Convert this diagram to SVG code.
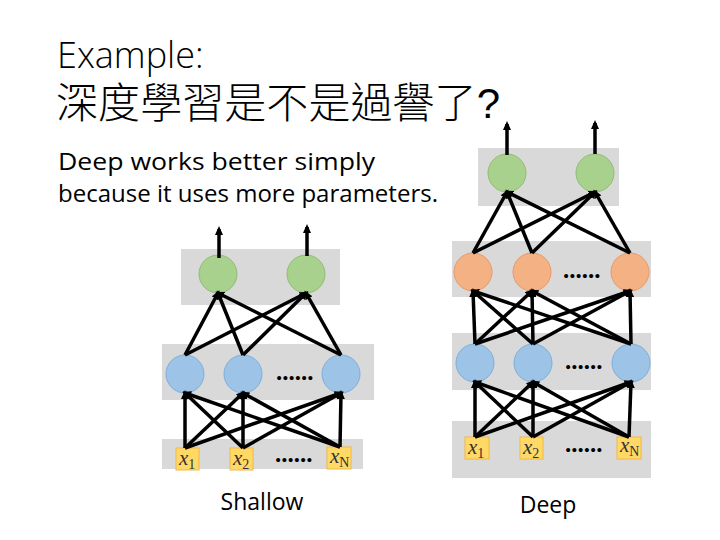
<svg xmlns="http://www.w3.org/2000/svg" width="720" height="540" viewBox="0 0 720 540">
<style>
.band{fill:#d9d9d9}
.g{fill:#a9d18e;stroke:#8fbc74;stroke-width:1}
.b{fill:#9dc3e6;stroke:#7eaedb;stroke-width:1}
.o{fill:#f4b183;stroke:#e8996a;stroke-width:1}
.in{fill:#ffd966;stroke:#f2b84b;stroke-width:1}
.ln{stroke:#000;stroke-width:3.5;fill:none;marker-end:url(#ah)}
.x{font-family:"Liberation Serif",serif;font-style:italic;font-size:21px;fill:#333}
.sub{font-family:"Liberation Serif",serif;font-style:normal;font-size:14px}
.dots{font-family:"Liberation Serif",serif;font-size:25px;font-weight:bold;fill:#000}
.t{font-family:"Open Sans","Noto Sans",sans-serif;fill:#000}
</style>
<defs>
<marker id="ah" markerUnits="userSpaceOnUse" markerWidth="9" markerHeight="8" refX="6" refY="4" orient="auto">
<path d="M0,0 L9,4 L0,8 z" fill="#000"/>
</marker>
</defs>
<rect width="720" height="540" fill="#fff"/>

<g id="title">
<text class="t" x="57" y="68" font-size="36" font-weight="300">Example:</text>
<text x="56" y="118" font-size="42" font-weight="300" font-family="'Noto Sans CJK TC','Noto Sans CJK SC',sans-serif" fill="#000" textLength="444">深度學習是不是過譽了<tspan font-family="'Liberation Sans',sans-serif">?</tspan></text>
</g>
<g id="note">
<text class="t" x="58" y="170" font-size="24" textLength="317" lengthAdjust="spacingAndGlyphs">Deep works better simply</text>
<text class="t" x="58" y="202" font-size="24" textLength="380" lengthAdjust="spacingAndGlyphs">because it uses more parameters.</text>
</g>

<!-- Shallow network bands -->
<g id="shallow-bands">
<rect class="band" x="181" y="249" width="159" height="56"/>
<rect class="band" x="162" y="344" width="212" height="56"/>
<rect class="band" x="162" y="439" width="201" height="30"/>
</g>
<!-- Deep network bands -->
<g id="deep-bands">
<rect class="band" x="478" y="148" width="141" height="58"/>
<rect class="band" x="452" y="241" width="199" height="56"/>
<rect class="band" x="452" y="333" width="199" height="57"/>
<rect class="band" x="452" y="421" width="199" height="57"/>
</g>

<!-- Shallow nodes -->
<g id="s-g1"><circle class="g" cx="218" cy="274" r="19"/></g>
<g id="s-g2"><circle class="g" cx="306" cy="274" r="19"/></g>
<g id="s-b1"><circle class="b" cx="185" cy="374" r="19"/></g>
<g id="s-b2"><circle class="b" cx="243" cy="374" r="19"/></g>
<g id="s-b3"><circle class="b" cx="341" cy="374" r="19"/></g>
<g id="s-x1"><rect class="in" x="176" y="448" width="23" height="22"/><text class="x" x="179" y="465">x<tspan class="sub" dy="4">1</tspan></text></g>
<g id="s-x2"><rect class="in" x="230" y="448" width="23" height="22"/><text class="x" x="233" y="465">x<tspan class="sub" dy="4">2</tspan></text></g>
<g id="s-xN"><rect class="in" x="327" y="447" width="24" height="22"/><text class="x" x="330" y="463">x<tspan class="sub" dy="4">N</tspan></text></g>
<g id="s-dots">
<text class="dots" x="276" y="380">......</text>
<text class="dots" x="275" y="462">......</text>
</g>

<!-- Deep nodes -->
<g id="d-g1"><circle class="g" cx="507" cy="173" r="19"/></g>
<g id="d-g2"><circle class="g" cx="595" cy="173" r="19"/></g>
<g id="d-o1"><circle class="o" cx="473" cy="272" r="19"/></g>
<g id="d-o2"><circle class="o" cx="532" cy="272" r="19"/></g>
<g id="d-o3"><circle class="o" cx="630" cy="272" r="19"/></g>
<g id="d-b1"><circle class="b" cx="475" cy="363" r="19"/></g>
<g id="d-b2"><circle class="b" cx="533" cy="363" r="19"/></g>
<g id="d-b3"><circle class="b" cx="631" cy="363" r="19"/></g>
<g id="d-x1"><rect class="in" x="465" y="437" width="24" height="22"/><text class="x" x="468" y="454">x<tspan class="sub" dy="4">1</tspan></text></g>
<g id="d-x2"><rect class="in" x="520" y="437" width="23" height="22"/><text class="x" x="523" y="454">x<tspan class="sub" dy="4">2</tspan></text></g>
<g id="d-xN"><rect class="in" x="617" y="437" width="24" height="22"/><text class="x" x="620" y="452">x<tspan class="sub" dy="4">N</tspan></text></g>
<g id="d-dots">
<text class="dots" x="563" y="278">......</text>
<text class="dots" x="565" y="369">......</text>
<text class="dots" x="565" y="452">......</text>
</g>

<g id="connectors">
<!-- shallow outputs -->
<line class="ln" x1="219" y1="258" x2="219" y2="229"/>
<line class="ln" x1="307" y1="256" x2="307" y2="227"/>
<!-- shallow blue -> green -->
<line class="ln" x1="185" y1="355" x2="218" y2="293"/>
<line class="ln" x1="185" y1="355" x2="306" y2="293"/>
<line class="ln" x1="243" y1="355" x2="218" y2="293"/>
<line class="ln" x1="243" y1="355" x2="306" y2="293"/>
<line class="ln" x1="341" y1="355" x2="218" y2="293"/>
<line class="ln" x1="341" y1="355" x2="306" y2="293"/>
<!-- shallow inputs -> blue -->
<line class="ln" x1="185" y1="448" x2="185" y2="393"/>
<line class="ln" x1="185" y1="448" x2="243" y2="393"/>
<line class="ln" x1="185" y1="448" x2="341" y2="393"/>
<line class="ln" x1="243" y1="448" x2="185" y2="393"/>
<line class="ln" x1="243" y1="448" x2="243" y2="393"/>
<line class="ln" x1="243" y1="448" x2="341" y2="393"/>
<line class="ln" x1="340" y1="447" x2="185" y2="393"/>
<line class="ln" x1="340" y1="447" x2="243" y2="393"/>
<line class="ln" x1="340" y1="447" x2="341" y2="393"/>

<!-- deep outputs -->
<line class="ln" x1="507" y1="155" x2="507" y2="124"/>
<line class="ln" x1="595" y1="154" x2="595" y2="123"/>
<!-- deep orange -> green -->
<line class="ln" x1="473" y1="253" x2="507" y2="192"/>
<line class="ln" x1="473" y1="253" x2="595" y2="192"/>
<line class="ln" x1="532" y1="253" x2="507" y2="192"/>
<line class="ln" x1="532" y1="253" x2="595" y2="192"/>
<line class="ln" x1="630" y1="253" x2="507" y2="192"/>
<line class="ln" x1="630" y1="253" x2="595" y2="192"/>
<!-- deep blue -> orange -->
<line class="ln" x1="475" y1="344" x2="473" y2="291"/>
<line class="ln" x1="475" y1="344" x2="532" y2="291"/>
<line class="ln" x1="475" y1="344" x2="630" y2="291"/>
<line class="ln" x1="533" y1="344" x2="473" y2="291"/>
<line class="ln" x1="533" y1="344" x2="532" y2="291"/>
<line class="ln" x1="533" y1="344" x2="630" y2="291"/>
<line class="ln" x1="631" y1="344" x2="473" y2="291"/>
<line class="ln" x1="631" y1="344" x2="532" y2="291"/>
<line class="ln" x1="631" y1="344" x2="630" y2="291"/>
<!-- deep inputs -> blue -->
<line class="ln" x1="475" y1="437" x2="475" y2="382"/>
<line class="ln" x1="475" y1="437" x2="533" y2="382"/>
<line class="ln" x1="475" y1="437" x2="631" y2="382"/>
<line class="ln" x1="533" y1="437" x2="475" y2="382"/>
<line class="ln" x1="533" y1="437" x2="533" y2="382"/>
<line class="ln" x1="533" y1="437" x2="631" y2="382"/>
<line class="ln" x1="629" y1="437" x2="475" y2="382"/>
<line class="ln" x1="629" y1="437" x2="533" y2="382"/>
<line class="ln" x1="629" y1="437" x2="631" y2="382"/>
</g>

<g id="labels">
<text class="t" x="262" y="510" font-size="23" text-anchor="middle">Shallow</text>
<text class="t" x="548" y="513" font-size="23" text-anchor="middle">Deep</text>
</g>
</svg>
